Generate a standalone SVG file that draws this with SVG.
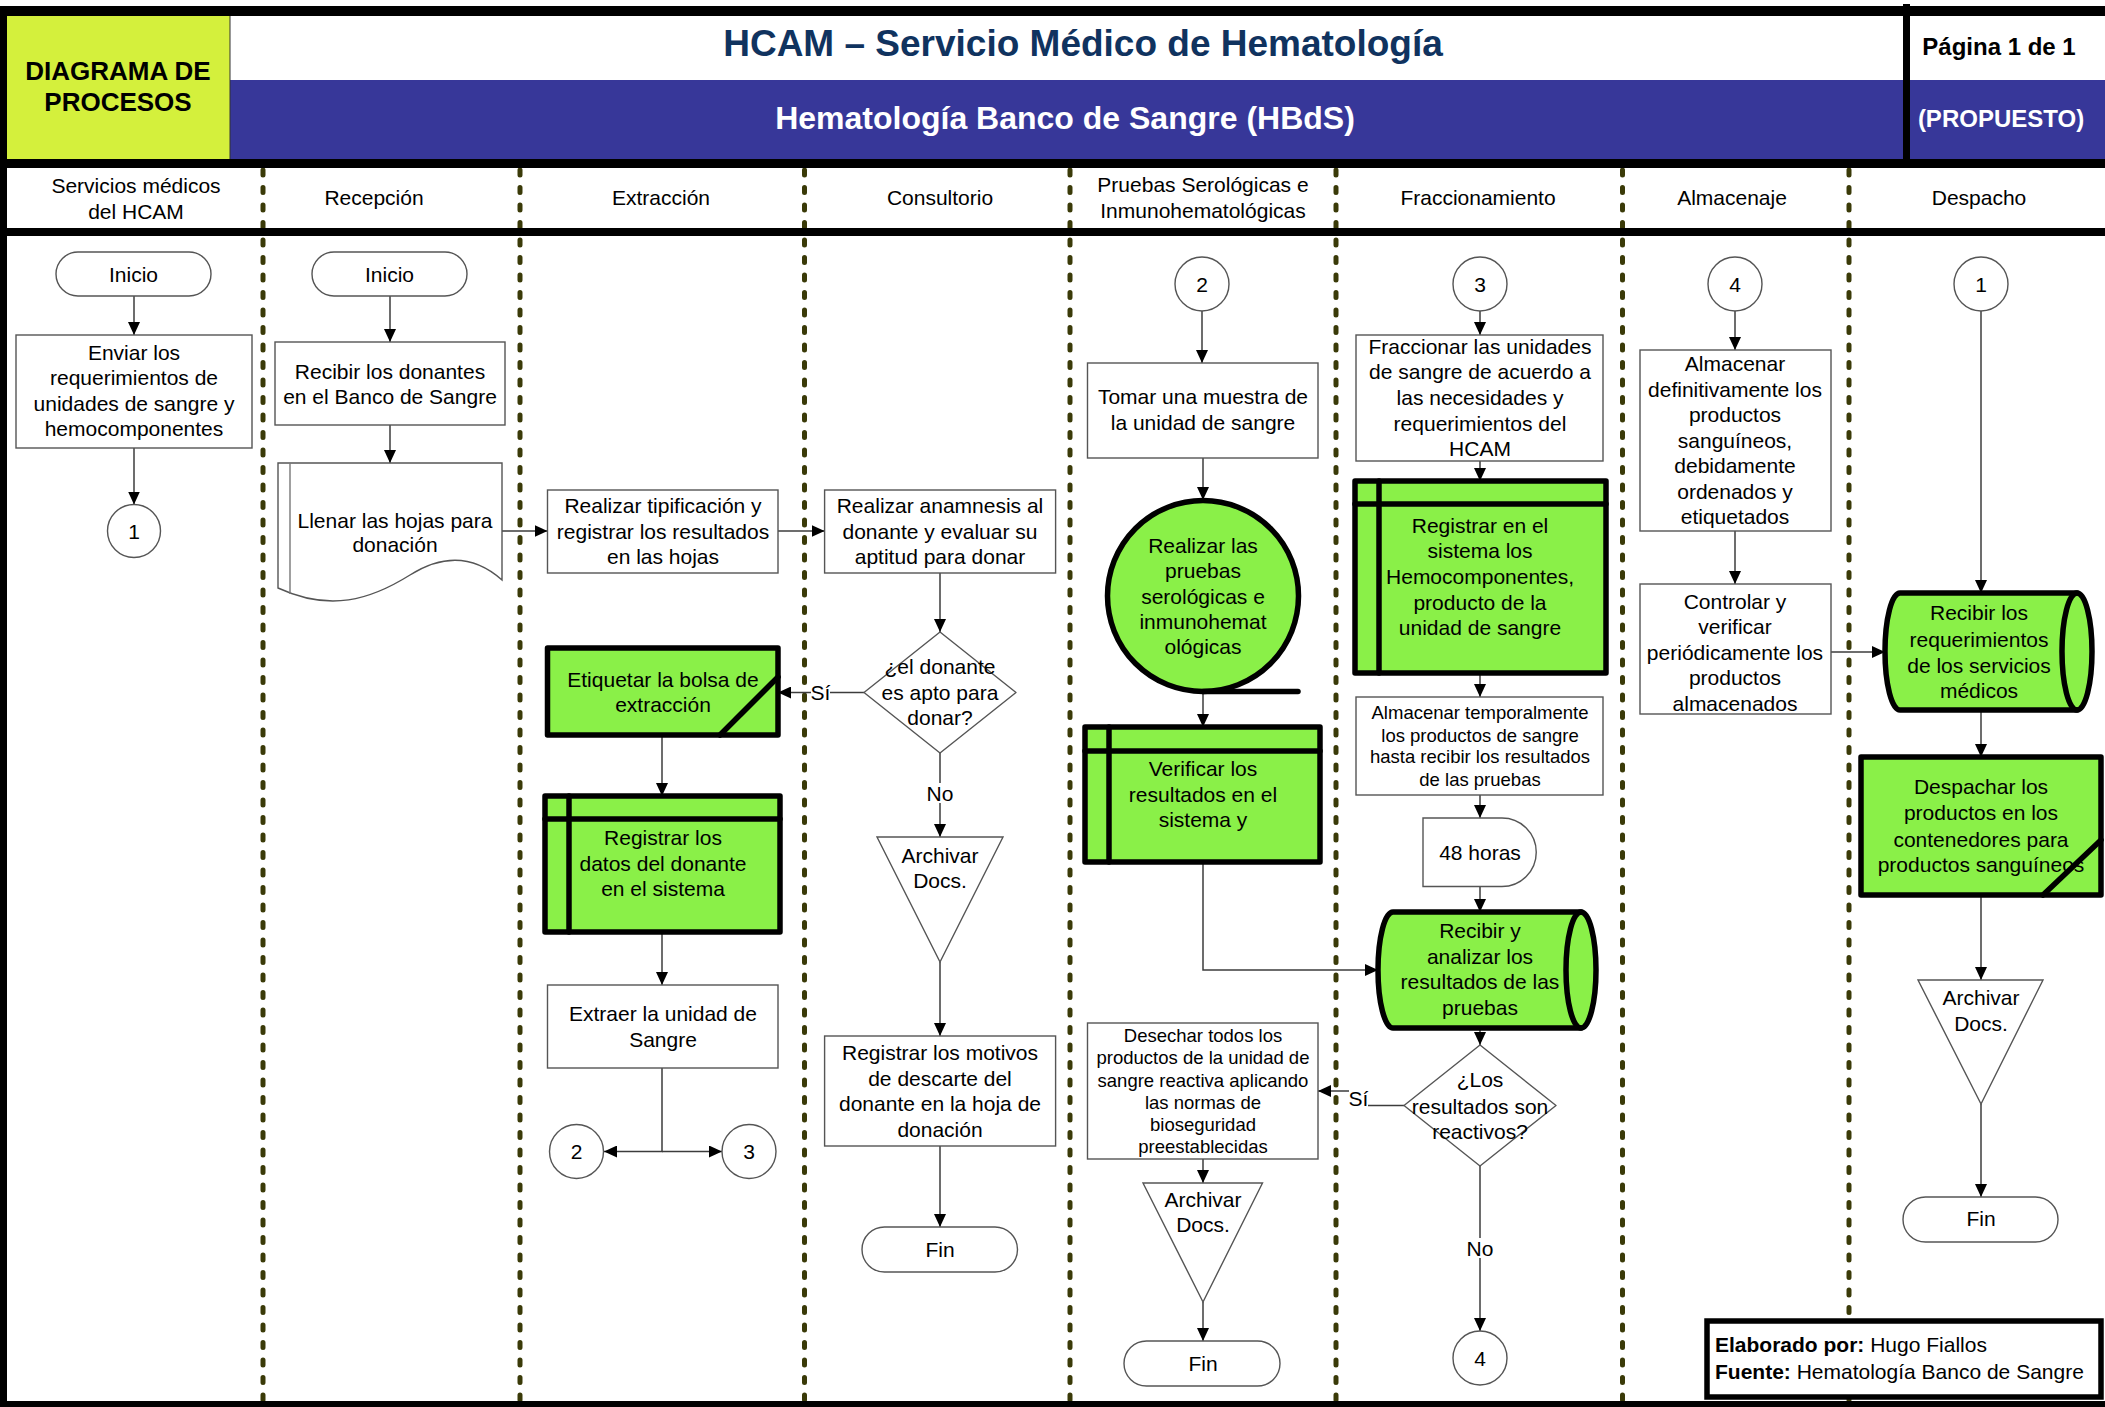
<svg xmlns="http://www.w3.org/2000/svg" width="2105" height="1407" viewBox="0 0 2105 1407">
<defs>
<style>
text{font-family:"Liberation Sans",Arial,Helvetica,sans-serif;fill:#000}
.t{font-size:21px;text-anchor:middle}
.s{font-size:18.5px;text-anchor:middle}
.box{fill:#fff;stroke:#555;stroke-width:1.4}
.gr{fill:#8af048;stroke:#000;stroke-width:5.5;stroke-linejoin:round}
.ln{fill:none;stroke:#000;stroke-width:5.5;stroke-linecap:round}
.c{fill:none;stroke:#3c3c3c;stroke-width:1.5;marker-end:url(#ah)}
.sep{fill:none;stroke:#3a3a08;stroke-width:5;stroke-dasharray:5 12.5;stroke-linecap:round}
.bar{fill:#000}
</style>
<marker id="ah" markerUnits="userSpaceOnUse" markerWidth="14" markerHeight="12" refX="13" refY="6" orient="auto"><path d="M0,0 L13,6 L0,12 Z" fill="#000"/></marker>
</defs>
<rect width="2105" height="1407" fill="#fff"/>

<!-- header -->
<g id="header">
<rect x="7" y="16" width="223" height="143" fill="#d4f03c"/>
<rect x="230" y="80" width="1674" height="79" fill="#373799"/>
<rect x="1908" y="80" width="197" height="79" fill="#373799"/>
<line x1="230" y1="16" x2="230" y2="159" stroke="#333" stroke-width="1"/>
<text x="118" y="80" style="font-size:26px;font-weight:bold;text-anchor:middle">DIAGRAMA DE</text>
<text x="118" y="111" style="font-size:26px;font-weight:bold;text-anchor:middle">PROCESOS</text>
<text x="1083" y="56" style="font-size:37px;font-weight:bold;text-anchor:middle;fill:#10335f">HCAM – Servicio Médico de Hematología</text>
<text x="1065" y="129" style="font-size:32px;font-weight:bold;text-anchor:middle;fill:#fff">Hematología Banco de Sangre (HBdS)</text>
<text x="1999" y="55" style="font-size:24px;font-weight:bold;text-anchor:middle">Página 1 de 1</text>
<text x="2001" y="127" style="font-size:24px;font-weight:bold;text-anchor:middle;fill:#fff">(PROPUESTO)</text>
</g>

<!-- lane separators -->
<g id="lanes">
<line class="sep" x1="263" y1="170" x2="263" y2="1400"/>
<line class="sep" x1="520" y1="170" x2="520" y2="1400"/>
<line class="sep" x1="804.5" y1="170" x2="804.5" y2="1400"/>
<line class="sep" x1="1070" y1="170" x2="1070" y2="1400"/>
<line class="sep" x1="1336" y1="170" x2="1336" y2="1400"/>
<line class="sep" x1="1622.5" y1="170" x2="1622.5" y2="1400"/>
<line class="sep" x1="1849" y1="170" x2="1849" y2="1400"/>
</g>

<!-- frame bars -->
<g id="frame">
<rect class="bar" x="0" y="6" width="2105" height="10"/>
<rect class="bar" x="0" y="159" width="2105" height="9"/>
<rect class="bar" x="0" y="228" width="2105" height="8"/>
<rect class="bar" x="0" y="1401" width="2105" height="6"/>
<rect class="bar" x="0" y="6" width="7" height="1401"/>
<rect class="bar" x="1903" y="4" width="7" height="158"/>
</g>

<!-- lane titles -->
<g id="lane-titles">
<text class="t" x="136" y="192.5">Servicios médicos</text>
<text class="t" x="136" y="218.5">del HCAM</text>
<text class="t" x="374" y="204.5">Recepción</text>
<text class="t" x="661" y="204.5">Extracción</text>
<text class="t" x="940" y="204.5">Consultorio</text>
<text class="t" x="1203" y="191.5">Pruebas Serológicas e</text>
<text class="t" x="1203" y="217.5">Inmunohematológicas</text>
<text class="t" x="1478" y="204.5">Fraccionamiento</text>
<text class="t" x="1732" y="204.5">Almacenaje</text>
<text class="t" x="1979" y="204.5">Despacho</text>
</g>

<!-- connectors -->
<g id="connectors">
<path class="c" d="M134,296 V335"/>
<path class="c" d="M134,448 V504.5"/>
<path class="c" d="M390,296 V342"/>
<path class="c" d="M390,425 V463"/>
<path class="c" d="M502,531 H547.5"/>
<path class="c" d="M778,531 H824.6"/>
<path class="c" d="M940,573 V632"/>
<path class="c" d="M864,692.5 H778"/>
<path class="c" d="M940,753 V837"/>
<path class="c" d="M662,735 V796"/>
<path class="c" d="M662,932 V985"/>
<path class="c" d="M662,1068 V1151.5 H604"/>
<path class="c" d="M662,1151.5 H722"/>
<path class="c" d="M940,962 V1036"/>
<path class="c" d="M940,1146 V1227"/>
<path class="c" d="M1202,311 V363"/>
<path class="c" d="M1203,458 V500"/>
<path class="c" d="M1203,692 V727"/>
<path class="c" d="M1203,862 V970 H1378"/>
<path class="c" d="M1480,311 V335"/>
<path class="c" d="M1480,461 V481"/>
<path class="c" d="M1480,673 V697"/>
<path class="c" d="M1480,795 V818"/>
<path class="c" d="M1480,886.5 V912"/>
<path class="c" d="M1480,1028 V1045"/>
<path class="c" d="M1404,1105.5 H1357 V1091 H1318"/>
<path class="c" d="M1480,1166 V1331"/>
<path class="c" d="M1203,1159 V1183"/>
<path class="c" d="M1203,1302 V1341"/>
<path class="c" d="M1735,311 V350"/>
<path class="c" d="M1735,531 V584"/>
<path class="c" d="M1831,652 H1885"/>
<path class="c" d="M1981,311 V593"/>
<path class="c" d="M1981,710 V757"/>
<path class="c" d="M1981,895 V980"/>
<path class="c" d="M1981,1104 V1197"/>
<rect x="811" y="683" width="19" height="20" fill="#fff"/>
<text class="t" x="820.5" y="700">Sí</text>
<rect x="927" y="783" width="26" height="20" fill="#fff"/>
<text class="t" x="940" y="800.5">No</text>
<rect x="1349" y="1089" width="19" height="21" fill="#fff"/>
<text class="t" x="1358.5" y="1106">Sí</text>
<rect x="1467" y="1238" width="26" height="20" fill="#fff"/>
<text class="t" x="1480" y="1255.5">No</text>
</g>

<!-- Servicios médicos del HCAM -->
<g id="n-inicio-1">
<rect class="box" x="56" y="252" width="155" height="44" rx="22"/>
<text class="t" x="133.5" y="281.5">Inicio</text>
</g>
<g id="n-enviar">
<rect class="box" x="16" y="335" width="236" height="113"/>
<text class="t" x="134" y="359.5">Enviar los</text>
<text class="t" x="134" y="385">requerimientos de</text>
<text class="t" x="134" y="410.5">unidades de sangre y</text>
<text class="t" x="134" y="436">hemocomponentes</text>
</g>
<g id="n-con1-out">
<circle class="box" cx="134" cy="531" r="26.5"/>
<text class="t" x="134" y="538.5">1</text>
</g>

<!-- Recepción -->
<g id="n-inicio-2">
<rect class="box" x="312" y="252" width="155" height="44" rx="22"/>
<text class="t" x="389.5" y="281.5">Inicio</text>
</g>
<g id="n-recibir-donantes">
<rect class="box" x="275" y="342" width="230" height="83"/>
<text class="t" x="390" y="379">Recibir los donantes</text>
<text class="t" x="390" y="404">en el Banco de Sangre</text>
</g>
<g id="n-llenar-hojas">
<path class="box" d="M278,463 H502 V580 C475,556 445,553 410,575 C370,600 330,612 278,588 Z"/>
<line x1="290" y1="463" x2="290" y2="594" stroke="#777" stroke-width="1.4"/>
<text class="t" x="395" y="527.5">Llenar las hojas para</text>
<text class="t" x="395" y="551.5">donación</text>
</g>

<!-- Extracción -->
<g id="n-tipificacion">
<rect class="box" x="547.5" y="490" width="230.5" height="83"/>
<text class="t" x="663" y="512.5">Realizar tipificación y</text>
<text class="t" x="663" y="538.5">registrar los resultados</text>
<text class="t" x="663" y="563.5">en las hojas</text>
</g>
<g id="n-etiquetar">
<rect class="gr" x="547.5" y="648" width="230.5" height="87"/>
<text class="t" x="663" y="686.5">Etiquetar la bolsa de</text>
<text class="t" x="663" y="711.5">extracción</text>
<line class="ln" x1="720" y1="735" x2="778" y2="677"/>
</g>
<g id="n-registrar-datos">
<rect class="gr" x="545" y="796" width="235" height="136"/>
<line class="ln" x1="569" y1="796" x2="569" y2="932"/>
<line class="ln" x1="545" y1="819" x2="780" y2="819"/>
<text class="t" x="663" y="844.5">Registrar los</text>
<text class="t" x="663" y="870.5">datos del donante</text>
<text class="t" x="663" y="895.5">en el sistema</text>
</g>
<g id="n-extraer">
<rect class="box" x="547.5" y="985" width="230.5" height="83"/>
<text class="t" x="663" y="1020.5">Extraer la unidad de</text>
<text class="t" x="663" y="1046.5">Sangre</text>
</g>
<g id="n-con2-out">
<circle class="box" cx="576.5" cy="1151.5" r="27"/>
<text class="t" x="576.5" y="1159">2</text>
</g>
<g id="n-con3-out">
<circle class="box" cx="749" cy="1151.5" r="27"/>
<text class="t" x="749" y="1159">3</text>
</g>

<!-- Consultorio -->
<g id="n-anamnesis">
<rect class="box" x="824.6" y="490" width="231" height="83"/>
<text class="t" x="940" y="512.5">Realizar anamnesis al</text>
<text class="t" x="940" y="538.5">donante y evaluar su</text>
<text class="t" x="940" y="563.5">aptitud para donar</text>
</g>
<g id="n-apto">
<polygon class="box" points="940,632 1016,692.5 940,753 864,692.5" stroke-linejoin="round"/>
<text class="t" x="940" y="674">¿el donante</text>
<text class="t" x="940" y="699.5">es apto para</text>
<text class="t" x="940" y="725">donar?</text>
</g>
<g id="n-archivar-1">
<polygon class="box" points="877,837 1003,837 940,962"/>
<text class="t" x="940" y="862.5">Archivar</text>
<text class="t" x="940" y="887.5">Docs.</text>
</g>
<g id="n-motivos">
<rect class="box" x="824.6" y="1036" width="231" height="110"/>
<text class="t" x="940" y="1059.5">Registrar los motivos</text>
<text class="t" x="940" y="1085.5">de descarte del</text>
<text class="t" x="940" y="1110.5">donante en la hoja de</text>
<text class="t" x="940" y="1136.5">donación</text>
</g>
<g id="n-fin-1">
<rect class="box" x="862" y="1227" width="155.5" height="45" rx="22.5"/>
<text class="t" x="940" y="1256.5">Fin</text>
</g>

<!-- Pruebas Serológicas e Inmunohematológicas -->
<g id="n-con2-in">
<circle class="box" cx="1202" cy="284" r="27"/>
<text class="t" x="1202" y="291.5">2</text>
</g>
<g id="n-tomar-muestra">
<rect class="box" x="1087.5" y="363" width="230.5" height="95"/>
<text class="t" x="1203" y="404">Tomar una muestra de</text>
<text class="t" x="1203" y="430">la unidad de sangre</text>
</g>
<g id="n-pruebas">
<circle class="gr" cx="1203" cy="596" r="95.5"/>
<line class="ln" x1="1203" y1="691.5" x2="1298" y2="691.5"/>
<text class="t" x="1203" y="552.5">Realizar las</text>
<text class="t" x="1203" y="578">pruebas</text>
<text class="t" x="1203" y="603.5">serológicas e</text>
<text class="t" x="1203" y="629">inmunohemat</text>
<text class="t" x="1203" y="654">ológicas</text>
</g>
<g id="n-verificar">
<rect class="gr" x="1085" y="727" width="235" height="135"/>
<line class="ln" x1="1109" y1="727" x2="1109" y2="862"/>
<line class="ln" x1="1085" y1="751" x2="1320" y2="751"/>
<text class="t" x="1203" y="775.5">Verificar los</text>
<text class="t" x="1203" y="801.5">resultados en el</text>
<text class="t" x="1203" y="826.5">sistema y</text>
</g>
<g id="n-desechar">
<rect class="box" x="1087.5" y="1023" width="230.5" height="136"/>
<text class="s" x="1203" y="1041.6">Desechar todos los</text>
<text class="s" x="1203" y="1063.6">productos de la unidad de</text>
<text class="s" x="1203" y="1086.6">sangre reactiva aplicando</text>
<text class="s" x="1203" y="1108.6">las normas de</text>
<text class="s" x="1203" y="1130.6">bioseguridad</text>
<text class="s" x="1203" y="1152.6">preestablecidas</text>
</g>
<g id="n-archivar-2">
<polygon class="box" points="1143,1183 1262.5,1183 1203,1302"/>
<text class="t" x="1203" y="1206.5">Archivar</text>
<text class="t" x="1203" y="1231.5">Docs.</text>
</g>
<g id="n-fin-2">
<rect class="box" x="1124" y="1341" width="156" height="45" rx="22.5"/>
<text class="t" x="1203" y="1370.5">Fin</text>
</g>

<!-- Fraccionamiento -->
<g id="n-con3-in">
<circle class="box" cx="1480" cy="284" r="27"/>
<text class="t" x="1480" y="291.5">3</text>
</g>
<g id="n-fraccionar">
<rect class="box" x="1356" y="335" width="247" height="126"/>
<text class="t" x="1480" y="353.5">Fraccionar las unidades</text>
<text class="t" x="1480" y="379">de sangre de acuerdo a</text>
<text class="t" x="1480" y="404.5">las necesidades y</text>
<text class="t" x="1480" y="430.5">requerimientos del</text>
<text class="t" x="1480" y="455.5">HCAM</text>
</g>
<g id="n-registrar-hemo">
<rect class="gr" x="1355" y="481" width="251" height="192"/>
<line class="ln" x1="1379" y1="481" x2="1379" y2="673"/>
<line class="ln" x1="1355" y1="504" x2="1606" y2="504"/>
<text class="t" x="1480" y="533">Registrar en el</text>
<text class="t" x="1480" y="558">sistema los</text>
<text class="t" x="1480" y="584">Hemocomponentes,</text>
<text class="t" x="1480" y="609.5">producto de la</text>
<text class="t" x="1480" y="635">unidad de sangre</text>
</g>
<g id="n-almacenar-temp">
<rect class="box" x="1356" y="697" width="247" height="98"/>
<text class="s" x="1480" y="719.3">Almacenar temporalmente</text>
<text class="s" x="1480" y="741.6">los productos de sangre</text>
<text class="s" x="1480" y="763.3">hasta recibir los resultados</text>
<text class="s" x="1480" y="786">de las pruebas</text>
</g>
<g id="n-48-horas">
<path class="box" d="M1423,818 H1502 A34.25,34.25 0 0 1 1502,886.5 H1423 Z"/>
<text class="t" x="1480" y="859.8">48 horas</text>
</g>
<g id="n-recibir-analizar">
<path class="gr" d="M1393,912 H1581 A15,58 0 0 1 1581,1028 H1393 A15,58 0 0 1 1393,912 Z"/>
<path class="ln" d="M1581,912 A15,58 0 0 0 1581,1028"/>
<text class="t" x="1480" y="938">Recibir y</text>
<text class="t" x="1480" y="964">analizar los</text>
<text class="t" x="1480" y="989">resultados de las</text>
<text class="t" x="1480" y="1015">pruebas</text>
</g>
<g id="n-reactivos">
<polygon class="box" points="1480,1045 1556,1105.5 1480,1166 1404,1105.5" stroke-linejoin="round"/>
<text class="t" x="1480" y="1086.5">¿Los</text>
<text class="t" x="1480" y="1113.5">resultados son</text>
<text class="t" x="1480" y="1138.5">reactivos?</text>
</g>
<g id="n-con4-out">
<circle class="box" cx="1480" cy="1358" r="27"/>
<text class="t" x="1480" y="1365.5">4</text>
</g>

<!-- Almacenaje -->
<g id="n-con4-in">
<circle class="box" cx="1735" cy="284" r="27"/>
<text class="t" x="1735" y="291.5">4</text>
</g>
<g id="n-almacenar-def">
<rect class="box" x="1640" y="350" width="191" height="181"/>
<text class="t" x="1735" y="370.5">Almacenar</text>
<text class="t" x="1735" y="396.5">definitivamente los</text>
<text class="t" x="1735" y="421.5">productos</text>
<text class="t" x="1735" y="447.5">sanguíneos,</text>
<text class="t" x="1735" y="473">debidamente</text>
<text class="t" x="1735" y="498.5">ordenados y</text>
<text class="t" x="1735" y="524">etiquetados</text>
</g>
<g id="n-controlar">
<rect class="box" x="1640" y="584" width="191" height="130"/>
<text class="t" x="1735" y="608.5">Controlar y</text>
<text class="t" x="1735" y="634">verificar</text>
<text class="t" x="1735" y="659.5">periódicamente los</text>
<text class="t" x="1735" y="685">productos</text>
<text class="t" x="1735" y="711">almacenados</text>
</g>

<!-- Despacho -->
<g id="n-con1-in">
<circle class="box" cx="1981" cy="284" r="27"/>
<text class="t" x="1981" y="291.5">1</text>
</g>
<g id="n-recibir-req">
<path class="gr" d="M1900,593 H2077 A15,58.5 0 0 1 2077,710 H1900 A15,58.5 0 0 1 1900,593 Z"/>
<path class="ln" d="M2077,593 A15,58.5 0 0 0 2077,710"/>
<text class="t" x="1979" y="620">Recibir los</text>
<text class="t" x="1979" y="646.5">requerimientos</text>
<text class="t" x="1979" y="672.5">de los servicios</text>
<text class="t" x="1979" y="698">médicos</text>
</g>
<g id="n-despachar">
<rect class="gr" x="1861" y="757" width="240" height="138"/>
<text class="t" x="1981" y="794">Despachar los</text>
<text class="t" x="1981" y="820">productos en los</text>
<text class="t" x="1981" y="846.5">contenedores para</text>
<text class="t" x="1981" y="872">productos sanguíneos</text>
<line class="ln" x1="2043" y1="895" x2="2101" y2="840"/>
</g>
<g id="n-archivar-3">
<polygon class="box" points="1918,980 2043,980 1981,1104"/>
<text class="t" x="1981" y="1005">Archivar</text>
<text class="t" x="1981" y="1031">Docs.</text>
</g>
<g id="n-fin-3">
<rect class="box" x="1903" y="1197" width="155" height="45" rx="22.5"/>
<text class="t" x="1981" y="1226">Fin</text>
</g>

<!-- authorship note -->
<g id="credits">
<rect x="1707" y="1321" width="394" height="76" fill="#fff" stroke="#000" stroke-width="5.5"/>
<text x="1715" y="1352" style="font-size:21px"><tspan font-weight="bold">Elaborado por:</tspan> Hugo Fiallos</text>
<text x="1715" y="1378.5" style="font-size:21px"><tspan font-weight="bold">Fuente:</tspan> Hematología Banco de Sangre</text>
</g>
</svg>
